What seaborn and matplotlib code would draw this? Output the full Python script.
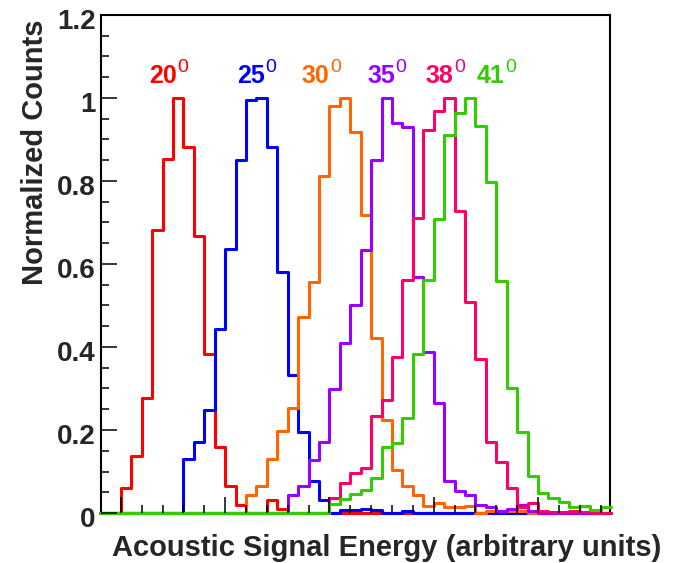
import numpy as np
import pandas as pd
import matplotlib
matplotlib.use("Agg")
import matplotlib.pyplot as plt
import matplotlib.transforms as mtransforms
from matplotlib.ticker import FixedLocator, MultipleLocator, FuncFormatter, NullFormatter
import seaborn as sns

# ---- data: normalized counts per energy bin (49 bins of unit width) ----
n_bins = 49
bin_edges = np.arange(n_bins + 1)

angle_labels = ["20", "25", "30", "35", "38", "41"]
line_colors = ["#ff0000", "#0000ff", "#ff6600", "#9900ff", "#ff0066", "#33cc00"]

counts_20 = [0] * 2 + [0.061, 0.138, 0.277, 0.681, 0.852, 1.0, 0.882, 0.667,
                       0.383, 0.158, 0.065, 0.020, 0, 0, 0.031, 0.010] + [0] * 31
counts_25 = [0] * 8 + [0.131, 0.171, 0.248, 0.444, 0.637, 0.850, 0.995, 1.0,
                       0.882, 0.580, 0.333, 0.196, 0.076, 0.031, 0, 0.008,
                       0.008, 0.010, 0.008, 0, 0, 0.006] + [0] * 19
counts_30 = [0] * 14 + [0.043, 0.065, 0.131, 0.198, 0.253, 0.473, 0.556, 0.812,
                        0.981, 1.0, 0.917, 0.717, 0.422, 0.223, 0.103, 0.065,
                        0.043, 0.017, 0.023, 0.015, 0.015, 0.017, 0, 0.006,
                        0.006, 0.006, 0.006] + [0] * 8
counts_35 = [0] * 18 + [0.043, 0.065, 0.128, 0.171, 0.299, 0.409, 0.502, 0.634,
                        0.850, 1.0, 0.940, 0.931, 0.568, 0.387, 0.266, 0.077,
                        0.053, 0.043, 0.019, 0.015, 0.006, 0.010, 0.019, 0.005] + [0] * 7
counts_38 = [0] * 22 + [0.037, 0.073, 0.097, 0.109, 0.234, 0.273, 0.375, 0.562,
                        0.712, 0.923, 0.969, 1.0, 0.727, 0.508, 0.371, 0.172,
                        0.122, 0.060, 0.015, 0.025, 0.005, 0.003, 0.003, 0.005,
                        0.003] + [0] * 2
counts_41 = [0] * 22 + [0.021, 0.033, 0.045, 0.055, 0.084, 0.158, 0.168, 0.230,
                        0.382, 0.562, 0.709, 0.912, 0.963, 1.0, 0.933, 0.798,
                        0.558, 0.301, 0.194, 0.089, 0.047, 0.037, 0.027, 0.014,
                        0.017, 0.007, 0.014]

all_counts = [counts_20, counts_25, counts_30, counts_35, counts_38, counts_41]

bin_centers = bin_edges[:-1] + 0.5
frames = []
for label, counts in zip(angle_labels, all_counts):
    frames.append(pd.DataFrame({"energy": bin_centers, "counts": counts, "angle": label}))
df = pd.concat(frames, ignore_index=True)

# ---- style ----
sns.set_theme(style="ticks")
plt.rcParams["font.family"] = ["Liberation Sans", "DejaVu Sans"]
plt.rcParams["font.weight"] = "bold"

fig = plt.figure(figsize=(6.74, 5.63), dpi=100)
ax = fig.add_axes([0.1499, 0.0888, 0.7552, 0.8846])

for label, color in zip(angle_labels, line_colors):
    sub = df[df["angle"] == label]
    sns.histplot(data=sub, x="energy", weights="counts",
                 binwidth=1, binrange=(bin_edges[0], bin_edges[-1]),
                 element="step", fill=False, color=color, linewidth=2.2, ax=ax)

# histogram outlines sit over the frame but under the tick marks
for line in ax.lines:
    line.set_zorder(2.45)
    line.set_clip_on(False)
ax.set_axisbelow(False)
for spine in ax.spines.values():
    spine.set_visible(True)
    spine.set_linewidth(1.5)
    spine.set_color("black")
    spine.set_zorder(2.4)

ax.set_xlim(0.1, 48.9)
ax.set_ylim(0, 1.2)

# angle labels above the peaks: bold number with a raised degree zero
label_left = [4.70, 13.11, 19.34, 25.63, 31.23, 36.12]
for label, color, xpos in zip(angle_labels, line_colors, label_left):
    main = ax.text(xpos, 1.035, label, color=color, fontsize=18,
                   fontweight="bold", ha="left", va="baseline")
    ax.annotate("0", xy=(1, 1), xycoords=main, xytext=(0.3, 4.0),
                textcoords="offset points", color=color, fontsize=14,
                fontweight="normal", ha="left", va="top")

ax.xaxis.set_major_locator(FixedLocator(np.arange(2, 49, 10)))
ax.xaxis.set_minor_locator(FixedLocator(np.arange(2, 49, 2)))
ax.xaxis.set_major_formatter(NullFormatter())
ax.yaxis.set_major_locator(MultipleLocator(0.2))
ax.yaxis.set_minor_locator(MultipleLocator(0.05))
ax.yaxis.set_major_formatter(FuncFormatter(lambda v, p: f"{v:g}"))

ax.tick_params(which="both", direction="in", top=False, right=False,
               width=1.1, color="black")
ax.tick_params(which="major", length=11.5)
ax.tick_params(which="minor", length=5.8)
ax.tick_params(axis="y", which="major", labelsize=20, pad=4)

ax.set_xlabel("")
ax.set_ylabel("")

fig.canvas.draw()
shift = mtransforms.ScaledTranslation(0, -3 / 72, fig.dpi_scale_trans)
for tl in ax.get_yticklabels():
    tl.set_fontweight("bold")
    tl.set_transform(tl.get_transform() + shift)

fig.text(0.5735, 0.0124, "Acoustic Signal Energy (arbitrary units)",
         fontsize=21, fontweight="bold", ha="center", va="baseline")
fig.text(0.052, 0.729, "Normalized Counts", fontsize=21, fontweight="bold",
         rotation=90, ha="center", va="center")

fig.savefig("out.png", dpi=100)
